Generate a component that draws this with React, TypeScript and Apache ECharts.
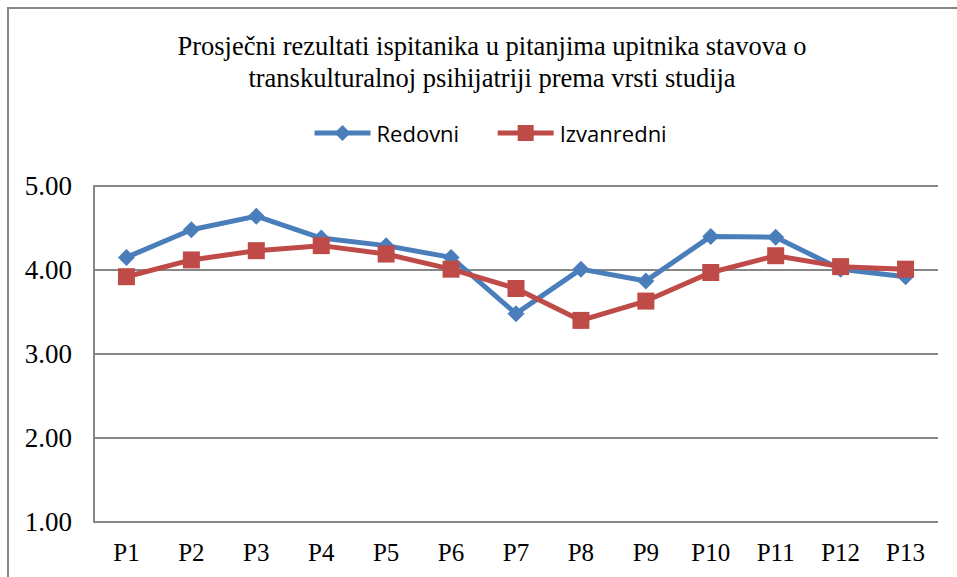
import React, { useEffect, useRef } from "react";
import * as echarts from "echarts";

const categories = ["P1", "P2", "P3", "P4", "P5", "P6", "P7", "P8", "P9", "P10", "P11", "P12", "P13"];
const redovni = [4.15, 4.48, 4.64, 4.38, 4.29, 4.15, 3.48, 4.01, 3.87, 4.40, 4.39, 4.01, 3.92];
const izvanredni = [3.92, 4.12, 4.23, 4.29, 4.19, 4.01, 3.78, 3.40, 3.63, 3.97, 4.17, 4.04, 4.01];
const titleText = "Prosječni rezultati ispitanika u pitanjima upitnika stavova o\ntranskulturalnoj psihijatriji prema vrsti studija";

const SERIF = "'Liberation Serif', 'Times New Roman', serif";

export default function App() {
  const ref = useRef<HTMLDivElement>(null);
  useEffect(() => {
    document.body.style.margin = "0";
    const chart = echarts.init(ref.current!, null, { renderer: "svg" });
    chart.setOption({
      animation: false,
      backgroundColor: "#ffffff",
      graphic: [
        {
          type: "rect",
          shape: { x: 8, y: 8, width: 1000, height: 1000 },
          style: { fill: "none", stroke: "#868686", lineWidth: 2 },
          silent: true,
        },
      ],
      title: {
        text: titleText,
        left: 487,
        top: 25,
        textAlign: "center",
        textStyle: {
          fontFamily: SERIF,
          fontSize: 26.5,
          fontWeight: "normal",
          color: "#000",
          lineHeight: 32,
        },
      },
      legend: {
        left: 312,
        top: 122,
        padding: 0,
        itemWidth: 56,
        itemHeight: 20,
        itemGap: 36,
        lineStyle: { width: 5 },
        textStyle: { fontFamily: "'Open Sans', sans-serif", fontSize: 22, color: "#000", padding: [0, 0, 0, 1] },
        data: ["Redovni", "Izvanredni"],
      },
      grid: { left: 94, right: 19, top: 186, bottom: 55, containLabel: false },
      xAxis: {
        type: "category",
        data: categories,
        boundaryGap: true,
        axisLine: { show: false },
        axisTick: { show: false },
        axisLabel: { fontFamily: SERIF, fontSize: 25, color: "#000", margin: 18 },
      },
      yAxis: {
        type: "value",
        min: 1,
        max: 5,
        interval: 1,
        axisLine: { show: true, lineStyle: { color: "#868686", width: 2 } },
        axisTick: { show: false },
        splitLine: { lineStyle: { color: "#868686", width: 2 } },
        axisLabel: {
          fontFamily: SERIF,
          fontSize: 27,
          color: "#000",
          margin: 22,
          formatter: (v: number) => v.toFixed(2),
        },
      },
      series: [
        {
          name: "Redovni",
          type: "line",
          data: redovni,
          symbol: "diamond",
          symbolSize: 17,
          color: "#4A7EBB",
          lineStyle: { width: 5, color: "#4A7EBB" },
          itemStyle: { color: "#4A7EBB" },
        },
        {
          name: "Izvanredni",
          type: "line",
          data: izvanredni,
          symbol: "rect",
          symbolSize: 17,
          color: "#BE4B48",
          lineStyle: { width: 5, color: "#BE4B48" },
          itemStyle: { color: "#BE4B48" },
        },
      ],
    });
    return () => chart.dispose();
  }, []);
  return <div ref={ref} style={{ width: 957, height: 577 }} />;
}
